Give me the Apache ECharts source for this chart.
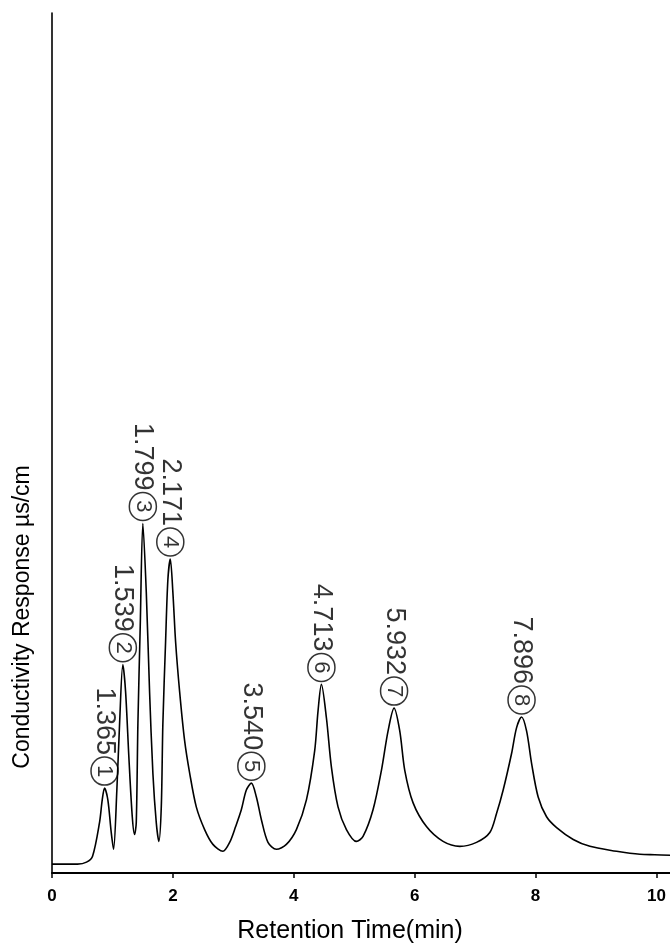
<!DOCTYPE html>
<html>
<head>
<meta charset="utf-8">
<script src="https://cdn.jsdelivr.net/npm/echarts@6/dist/echarts.min.js"></script>
<style>
  html, body { margin: 0; padding: 0; background: #fff; }
  #chart { width: 670px; height: 949px; }
</style>
</head>
<body>
<div id="chart"></div>
<script>
// Chromatogram trace: retention time (min) and detector response (arbitrary units)
const retentionTime = [
  0.000, 0.422, 0.571, 0.671, 0.786, 0.831, 0.869, 0.924, 0.980, 1.018,
  1.073, 1.118, 1.172, 1.217, 1.272, 1.328, 1.366, 1.394, 1.421, 1.460,
  1.503, 1.560, 1.614, 1.669, 1.725, 1.768, 1.808, 1.834, 1.879, 1.917,
  1.957, 2.000, 2.045, 2.111, 2.194, 2.278, 2.387, 2.525, 2.662, 2.828,
  2.939, 3.038, 3.132, 3.215, 3.298, 3.381, 3.464, 3.573, 3.712, 3.877,
  4.043, 4.209, 4.346, 4.401, 4.457, 4.540, 4.623, 4.732, 4.871, 5.036,
  5.146, 5.311, 5.450, 5.560, 5.659, 5.753, 5.836, 5.974, 6.195, 6.470,
  6.747, 7.023, 7.243, 7.353, 7.464, 7.603, 7.685, 7.768, 7.851, 7.934,
  8.043, 8.182, 8.348, 8.623, 8.899, 9.341, 9.560, 9.727, 9.970, 10.224
];
const response = [
  9, 9, 11, 17, 51, 74, 86, 74, 41, 24,
  84, 151, 211, 184, 117, 57, 39, 51, 151, 251,
  354, 284, 184, 101, 51, 32, 67, 151, 234, 297,
  318, 284, 234, 184, 134, 101, 67, 44, 29, 22,
  31, 47, 64, 84, 91, 77, 54, 31, 24, 29,
  44, 74, 124, 164, 191, 157, 107, 67, 44, 32,
  37, 64, 104, 144, 167, 144, 104, 71, 47, 32,
  27, 31, 41, 60, 84, 121, 147, 158, 144, 111,
  77, 57, 46, 34, 27, 22, 20, 19, 18.5, 18
];

// Peak annotations: reported retention time and peak number
const peakRetention = ['1.365', '1.539', '1.799', '2.171', '3.540', '4.713', '5.932', '7.896'];
const peakNumber = ['1', '2', '3', '4', '5', '6', '7', '8'];

// Axis ticks
const xTicks = [0, 2, 4, 6, 8, 10];
const xMax = 10.224;
const yMax = 871;

const trace = retentionTime.map((t, i) => [t, response[i]]);

// Peak apexes are the local maxima of the trace
const apexes = [];
for (let i = 1; i < trace.length - 1; i++) {
  if (trace[i][1] > trace[i - 1][1] && trace[i][1] > trace[i + 1][1]) apexes.push(trace[i]);
}
const peakPoints = apexes.slice(0, peakRetention.length).map((p, k) => ({
  value: p,
  label: { formatter: '{v|' + peakRetention[k] + '}{c|' + peakNumber[k] + '}' }
}));

const chart = echarts.init(document.getElementById('chart'), null, { renderer: 'canvas' });
chart.setOption({
  backgroundColor: '#ffffff',
  animation: false,
  textStyle: { fontFamily: 'Liberation Sans, Arial, sans-serif', color: '#000' },
  grid: { left: 52, right: 0, top: 13, bottom: 65, containLabel: false },
  xAxis: {
    type: 'value',
    min: 0,
    max: xMax,
    interval: 2,
    axisLine: { show: true, lineStyle: { color: '#000', width: 2 } },
    axisTick: { show: true, length: 5, customValues: xTicks, lineStyle: { color: '#000', width: 1.5 } },
    axisLabel: {
      show: true,
      customValues: xTicks,
      margin: 15,
      fontSize: 17,
      fontWeight: 'bold',
      color: '#000',
      fontFamily: 'Liberation Sans, Arial, sans-serif',
      formatter: v => (Math.abs(v / 2 - Math.round(v / 2)) < 1e-6 ? String(Math.round(v)) : '')
    },
    splitLine: { show: false },
    name: 'Retention Time(min)',
    nameLocation: 'middle',
    nameGap: 46,
    nameTextStyle: {
      fontSize: 25,
      color: '#000',
      fontFamily: 'Liberation Sans, Arial, sans-serif',
      padding: [0, 22, 0, 0]
    }
  },
  yAxis: {
    type: 'value',
    min: 0,
    max: yMax,
    axisLine: { show: true, lineStyle: { color: '#000', width: 1.6 } },
    axisTick: { show: false },
    axisLabel: { show: false },
    splitLine: { show: false }
  },
  graphic: [{
    type: 'text',
    x: 23,
    y: 617,
    rotation: Math.PI / 2,
    style: {
      text: 'Conductivity Response µs/cm',
      fontSize: 23,
      fontFamily: 'Liberation Sans, Arial, sans-serif',
      fill: '#000',
      textAlign: 'center',
      textVerticalAlign: 'middle'
    }
  }],
  series: [
    {
      type: 'line',
      data: trace,
      showSymbol: false,
      smooth: 0.3,
      lineStyle: { color: '#000', width: 1.6 },
      z: 2
    },
    {
      type: 'scatter',
      data: peakPoints,
      symbolSize: 0,
      z: 3,
      label: {
        show: true,
        position: 'top',
        distance: 3,
        rotate: -90,
        align: 'right',
        verticalAlign: 'middle',
        rich: {
          v: {
            fontSize: 27,
            color: '#000',
            fontFamily: 'Liberation Sans, Arial, sans-serif',
            padding: [0, 2, 0, 0]
          },
          c: {
            fontSize: 22,
            color: '#000',
            fontFamily: 'Liberation Sans, Arial, sans-serif',
            width: 28,
            height: 27,
            lineHeight: 27,
            align: 'center',
            verticalAlign: 'middle',
            borderColor: '#000',
            borderWidth: 1.5,
            borderRadius: 14
          }
        }
      }
    }
  ]
});
</script>
</body>
</html>
